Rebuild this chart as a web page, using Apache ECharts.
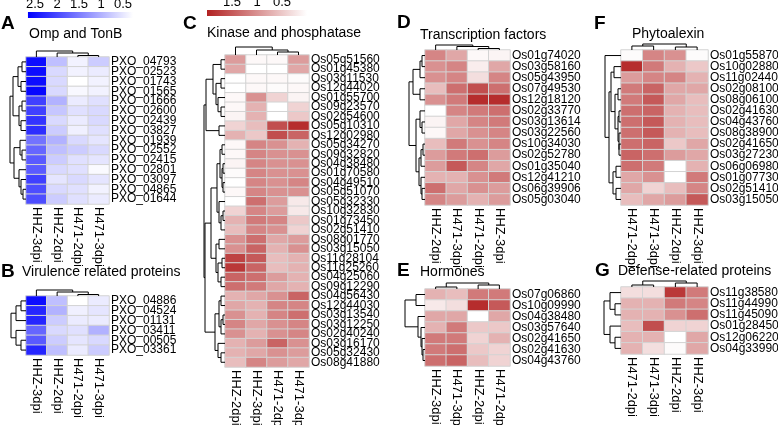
<!DOCTYPE html>
<html><head><meta charset="utf-8">
<script src="https://cdn.jsdelivr.net/npm/echarts@6/dist/echarts.min.js"></script>
<style>html,body{margin:0;padding:0;background:#fff}#c{width:778px;height:425px}</style>
</head><body><div id="c"></div>
<script>
// ---------- DATA ----------
const blueTicks = [2.5, 2, 1.5, 1, 0.5];
const redTicks = [1.5, 1, 0.5];
const blueRange = [0.27, 2.66];
const redRange = [0, 2];

const colsA = ['HHZ-3dpi','HHZ-2dpi','H471-2dpi','H471-3dpi'];
const rowsA = ['PXO_04793','PXO_02523','PXO_01743','PXO_01565','PXO_01666','PXO_02600','PXO_02439','PXO_03827','PXO_01939','PXO_02552','PXO_02415','PXO_02801','PXO_03097','PXO_04865','PXO_01644'];
const valsA = [
 [2.54,0.87,0.39,0.75],[2.54,0.63,0.39,0.46],[2.54,0.63,0.27,0.39],[2.59,0.63,0.34,0.39],
 [2.06,0.99,0.46,0.56],[2.06,0.80,0.56,0.63],[2.18,0.63,0.46,0.63],[2.23,0.75,0.41,0.56],
 [1.58,0.99,0.63,0.51],[1.70,0.87,0.75,0.63],[1.82,0.75,0.56,0.51],[1.82,0.63,0.56,0.32],
 [2.06,0.51,0.63,0.51],[1.94,0.63,0.56,0.39],[1.94,0.75,0.56,0.46]];
const rowTreeA = [16,[13,[8,[4,0,1],[5,2,3]],[7,[4,4,5],[5,6,7]]],[12,[6,8,[4,9,10]],[7,11,[5,12,[3,13,14]]]]];
const colTreeA = [6,0,[4,1,[1.5,2,3]]];

const colsB = ['HHZ-3dpi','HHZ-2dpi','H471-2dpi','H471-3dpi'];
const rowsB = ['PXO_04886','PXO_04524','PXO_01131','PXO_03411','PXO_00505','PXO_03361'];
const valsB = [
 [2.54,0.87,0.27,0.46],[2.30,0.99,0.41,0.51],[2.30,0.75,0.46,0.46],
 [1.70,0.63,0.56,0.99],[1.82,0.75,0.51,0.63],[2.30,0.87,0.46,0.75]];
const rowTreeB = [15,[10,[5,0,1],2],[10,3,[5,4,5]]];
const colTreeB = [6,0,[4,1,[1.5,2,3]]];

const colsC = ['HHZ-2dpi','HHZ-3dpi','H471-2dpi','H471-3dpi'];
const rowsC = ['Os05g51560','Os01g45380','Os03g11530','Os12g44020','Os01g55700','Os09g23570','Os02g54600','Os05g10310','Os12g02980','Os05g34270','Os09g32820','Os04g38480','Os01g70580','Os04g49510','Os05g51070','Os05g32330','Os10g32830','Os01g73450','Os02g51410','Os08g01770','Os03g15050','Os11g28104','Os11g25260','Os04g25060','Os09g12290','Os04g56430','Os12g44030','Os03g13540','Os03g12250','Os02g40240','Os03g16170','Os05g32430','Os08g41880'];
const valsC = [
 [0.9,0.06,0.06,0.9],[0.8,0,0,0.8],[0,0.06,0.06,0.04],[0,0.06,0.04,0.06],
 [0.06,1.0,0.4,0.1],[0.06,0.7,0,0.4],[0.1,0.7,0,0.5],[0.4,0.6,1.6,1.9],
 [0.7,0.5,1.6,1.4],[0.06,1.1,1.0,0.7],[0.06,1.1,1.0,1.0],[0.1,1.1,1.0,1.0],
 [0.04,1.1,1.0,1.0],[0,1.1,1.0,1.1],[0.06,1.1,1.0,1.0],[0,1.3,0.9,0.2],
 [0.4,1.1,0.9,0.2],[0.7,1.2,1.1,0.5],[0.6,1.1,1.0,0.4],[1.0,1.3,0.8,0.9],
 [1.0,1.4,0.7,1.0],[1.7,1.5,0.6,0.7],[1.8,1.4,0.6,0.7],[1.4,1.3,0.9,0.7],
 [1.3,1.2,0.8,0.7],[0.7,0.8,1.0,1.4],[0.8,0.7,1.1,1.1],[1.0,0.7,1.1,1.3],
 [1.1,0.8,1.0,1.1],[1.0,0.7,1.0,1.1],[0.7,0.9,1.4,1.0],[0.7,0.8,1.0,0.9],[0.6,1.1,0.9,0.8]];
const rowTreeC = [21,[19,[12,[4,0,1],[9,[4,2,3],[7,4,[4,5,6]]]],[6,7,8]],
 [20,[14,[8,[5,[3,9,10],[3,[2,11,12],[2,13,14]]],[6,15,[4,[2,16,17],18]]],[9,[6,19,20],[7,[3,21,22],[4,23,24]]]],
  [10,[6,[4,25,26],[4,[2,27,28],29]],[7,30,[4,31,32]]]]];
const colTreeC = [8,0,[5,1,[3,2,3]]];

const colsD = ['HHZ-2dpi','H471-3dpi','H471-2dpi','HHZ-3dpi'];
const rowsD = ['Os01g74020','Os03g58160','Os05g43950','Os07g49530','Os12g18120','Os02g33770','Os03g13614','Os03g22560','Os10g34030','Os02g52780','Os01g35040','Os12g41210','Os06g39906','Os05g03040'];
const valsD = [
 [1.1,0.8,0.06,0.1],[1.0,1.1,0.16,0.8],[1.0,1.1,0.3,1.1],[0.6,1.3,1.6,1.3],
 [1.0,1.2,1.9,1.9],[0,1.1,1.2,1.3],[0.1,0.8,1.1,1.2],[0.06,0.8,1.0,1.1],
 [0.6,1.2,1.0,1.1],[0.9,1.2,1.3,0.9],[0.9,1.5,1.1,0.8],[0.7,0.7,1.0,1.2],
 [1.3,0.8,1.0,0.9],[1.1,0.9,0.7,0.9]];
const rowTreeD = [16,[12,[5,[3,0,1],2],[5,3,4]],[9,[5,5,[3,6,7]],[6,[4,[2,8,9],10],[4,11,[3,12,13]]]]];
const colTreeD = [5,0,[3.5,1,[1.5,2,3]]];

const colsE = ['HHZ-3dpi','H471-3dpi','HHZ-2dpi','H471-2dpi'];
const rowsE = ['Os07g06860','Os10g09990','Os04g38480','Os03g57640','Os02g41650','Os02g41630','Os04g43760'];
const valsE = [
 [0.7,0.6,1.2,1.2],[0.2,0.3,1.9,1.5],[0.8,0.8,0,0.8],[0.7,1.2,0.5,0.5],
 [1.2,1.2,0.4,0.7],[1.2,1.3,0.5,0.4],[1.3,1.4,0.6,0.4]];
const rowTreeE = [20,[9,0,1],[7,2,[4,3,[3,4,[2,5,6]]]]];
const colTreeE = [6,[2,0,1],[4,2,3]];

const colsF = ['H471-2dpi','H471-3dpi','HHZ-2dpi','HHZ-3dpi'];
const rowsF = ['Os01g55870','Os10g02880','Os11g02440','Os02g08100','Os08g06100','Os02g41630','Os04g43760','Os08g38900','Os02g41650','Os03g27230','Os06g06980','Os01g07730','Os02g51410','Os03g15050'];
const valsF = [
 [0.04,1.1,1.0,0.04],[1.9,1.2,0.7,0.5],[0.9,1.1,1.1,0.7],[1.2,1.4,0.8,0.8],
 [1.2,1.5,0.8,0.6],[1.3,1.4,0.7,0.6],[1.3,1.5,0.7,0.6],[1.3,1.5,0.7,0.6],
 [1.3,1.4,0.5,0.8],[1.4,1.3,0.9,0.8],[1.3,1.2,0,0.7],[0.8,1.0,0,1.2],
 [0.8,0.4,0.6,1.1],[0.6,0.8,0.9,1.5]];
const rowTreeF = [16,0,[12,[10,[7,1,2],[6,[3,3,4],[3,[2,5,6],[2,7,[2,8,9]]]]],[8,[5,10,11],[5,12,13]]]];
const colTreeF = [6,[4,0,1],[3,2,3]];

const colsG = ['H471-2dpi','H471-3dpi','HHZ-2dpi','HHZ-3dpi'];
const rowsG = ['Os11g38580','Os11g44990','Os11g45090','Os01g28450','Os12g06220','Os04g33990'];
const valsG = [
 [0.3,0.3,1.8,1.2],[0.7,0.7,1.2,1.1],[0.7,0.7,1.0,1.3],
 [0.6,1.6,0.4,0.4],[0.7,0.7,0,0.8],[0.7,0.3,0.04,0.8]];
const rowTreeG = [17,[11,0,[6,1,2]],[11,3,[6,4,5]]];
const colTreeG = [6,[2,0,1],[4,2,3]];

// ---------- STYLE / LAYOUT ----------
const FONT = 'Liberation Sans, Arial, sans-serif';
const ROWLBL = 12, COLLBL = 13;
const BLUE = ['#FFFFFF', '#0000FF'];
const RED = ['#FFFFFF', '#B22222'];

const panels = [
 {cols:colsA, rows:rowsA, vals:valsA, rt:rowTreeA, ct:colTreeA, pal:BLUE, rng:blueRange, x:26, y:57, w:83, h:147, dw:17, dh:7},
 {cols:colsB, rows:rowsB, vals:valsB, rt:rowTreeB, ct:colTreeB, pal:BLUE, rng:blueRange, x:26, y:296, w:83, h:59, dw:17, dh:7},
 {cols:colsC, rows:rowsC, vals:valsC, rt:rowTreeC, ct:colTreeC, pal:RED, rng:redRange, x:225, y:55, w:84, h:312, dw:22, dh:8},
 {cols:colsD, rows:rowsD, vals:valsD, rt:rowTreeD, ct:colTreeD, pal:RED, rng:redRange, x:425, y:50, w:85, h:155, dw:17, dh:6},
 {cols:colsE, rows:rowsE, vals:valsE, rt:rowTreeE, ct:colTreeE, pal:RED, rng:redRange, x:425, y:289, w:85, h:77, dw:22, dh:8},
 {cols:colsF, rows:rowsF, vals:valsF, rt:rowTreeF, ct:colTreeF, pal:RED, rng:redRange, x:621, y:50, w:87, h:155, dw:17, dh:7},
 {cols:colsG, rows:rowsG, vals:valsG, rt:rowTreeG, ct:colTreeG, pal:RED, rng:redRange, x:621, y:287, w:87, h:67, dw:17, dh:7}
];

const titles = [
 {t:'A', x:1, y:24, b:true}, {t:'Omp and TonB', x:29, y:34},
 {t:'B', x:1, y:272, b:true}, {t:'Virulence related proteins', x:22, y:272},
 {t:'C', x:183, y:24, b:true}, {t:'Kinase and phosphatase', x:207, y:33},
 {t:'D', x:397, y:23, b:true}, {t:'Transcription factors', x:420, y:35},
 {t:'E', x:397, y:271, b:true}, {t:'Hormones', x:420, y:272},
 {t:'F', x:594, y:24, b:true}, {t:'Phytoalexin', x:632, y:34},
 {t:'G', x:595, y:271, b:true}, {t:'Defense-related proteins', x:618, y:271}
];

// ---------- BUILD ----------
function layoutTree(node, segs) {
  if (typeof node === 'number') return {p: node, h: 0};
  const L = layoutTree(node[1], segs), R = layoutTree(node[2], segs);
  segs.push([L.p, L.h, R.p, R.h, node[0]]);
  return {p: (L.p + R.p) / 2, h: node[0]};
}

const grid = [], xAxis = [], yAxis = [], series = [], visualMap = [];
const hidden = {show:false};
function addGrid(g){ grid.push(Object.assign({containLabel:false, outerBoundsMode:'none'}, g)); return grid.length - 1; }

function dendroSeries(segs, rowwise) {
  return {type:'custom', xAxisIndex:xAxis.length-1, yAxisIndex:yAxis.length-1, data:segs, clip:false, silent:true,
    renderItem:(p, api) => {
      const pl=api.value(0), hl=api.value(1), pr=api.value(2), hr=api.value(3), h=api.value(4);
      const raw = [[pl,hl],[pl,h],[pr,h],[pr,hr]];
      const pts = raw.map(q => api.coord(rowwise ? [q[1], q[0]] : q));
      return {type:'polyline', shape:{points:pts}, style:{stroke:'#000', lineWidth:1, fill:null}};
    }};
}

panels.forEach(P => {
  const gi = addGrid({left:P.x, top:P.y, width:P.w, height:P.h});
  xAxis.push({type:'category', gridIndex:gi, data:P.cols, position:'bottom',
    axisLine:hidden, axisTick:hidden, splitLine:hidden,
    axisLabel:{rotate:-90, interval:0, margin:3, fontSize:COLLBL, color:'#000', fontFamily:FONT}});
  yAxis.push({type:'category', gridIndex:gi, data:P.rows, inverse:true, position:'right',
    axisLine:hidden, axisTick:hidden, splitLine:hidden,
    axisLabel:{interval:0, margin:2, fontSize:ROWLBL, color:'#000', fontFamily:FONT}});
  const data = [];
  P.vals.forEach((row, r) => row.forEach((v, c) => data.push([c, r, v])));
  series.push({type:'heatmap', xAxisIndex:xAxis.length-1, yAxisIndex:yAxis.length-1, data,
    itemStyle:{borderColor:'#D3D3D3', borderWidth:1}, emphasis:{disabled:true}});
  visualMap.push({show:false, type:'continuous', seriesIndex:series.length-1, dimension:2,
    min:P.rng[0], max:P.rng[1], inRange:{color:P.pal}});

  const rs = []; layoutTree(P.rt, rs);
  const gr = addGrid({left:P.x - P.dw, top:P.y, width:P.dw, height:P.h});
  xAxis.push({type:'value', gridIndex:gr, min:0, max:P.dw, inverse:true, show:false});
  yAxis.push({type:'value', gridIndex:gr, min:-0.5, max:P.rows.length-0.5, inverse:true, show:false});
  series.push(dendroSeries(rs, true));

  const cs = []; layoutTree(P.ct, cs);
  const gc = addGrid({left:P.x, top:P.y - P.dh, width:P.w, height:P.dh});
  xAxis.push({type:'value', gridIndex:gc, min:-0.5, max:P.cols.length-0.5, show:false});
  yAxis.push({type:'value', gridIndex:gc, min:0, max:P.dh, show:false});
  series.push(dendroSeries(cs, false));
});

function addBar(left, top, width, height, axMax, ticks, rng, pal) {
  const g = addGrid({left, top, width, height});
  xAxis.push({type:'value', gridIndex:g, min:0, max:axMax, interval:0.5, inverse:true, position:'top',
    axisLine:hidden, axisTick:hidden, splitLine:hidden,
    axisLabel:{margin:1, fontSize:13, color:'#000', fontFamily:FONT,
      formatter:v => ticks.some(t => Math.abs(t - v) < 1e-6) ? String(v) : ''}});
  yAxis.push({type:'value', gridIndex:g, min:0, max:1, show:false});
  series.push({type:'custom', xAxisIndex:xAxis.length-1, yAxisIndex:yAxis.length-1, data:[[rng[1], rng[0]]], clip:false, silent:true,
    renderItem:(p, api) => {
      const a = api.coord([api.value(0), 1]), b = api.coord([api.value(1), 0]);
      return {type:'rect', shape:{x:a[0], y:a[1], width:b[0]-a[0], height:b[1]-a[1]},
        style:{fill:new echarts.graphic.LinearGradient(0,0,1,0,[{offset:0,color:pal[1]},{offset:1,color:pal[0]}])}};
    }});
}
addBar(13, 12, 132, 6, 3, blueTicks, blueRange, BLUE);
addBar(207, 10, 100, 6, 2, redTicks, redRange, RED);

const graphic = titles.map(t => ({type:'text', x:t.x, y:t.y,
  style:{text:t.t, fill:'#000', font:(t.b ? 'bold 19px ' : '14px ') + FONT, verticalAlign:'middle', align:'left'}}));

const chart = echarts.init(document.getElementById('c'), null, {renderer:'canvas'});
chart.setOption({animation:false, backgroundColor:'#fff', grid, xAxis, yAxis, series, visualMap, graphic});
</script>
</body></html>
